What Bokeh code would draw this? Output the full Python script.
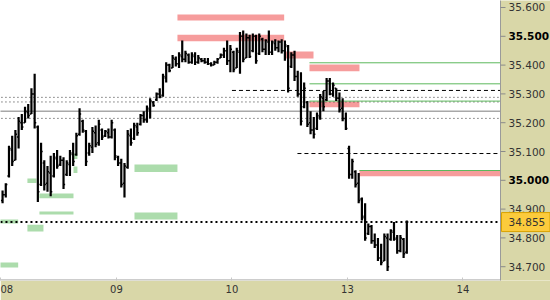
from bokeh.plotting import figure
from bokeh.models import Range1d, FixedTicker
from bokeh.core.properties import value
from bokeh.embed import file_html
from bokeh.resources import INLINE

# Trading sessions shown on the time axis (the last one has no bars yet)
axis_days = ["08", "09", "10", "13", "14"]
bars_per_session = 36
session_lengths = [36, 36, 36, 19]

# OHLC of each bar, session after session
opens = [
    34.930, 34.950, 35.015, 35.105, 35.070, 35.150, 35.200, 35.200, 35.235, 35.230, 35.300, 35.185,
    34.985, 35.060, 34.990, 35.025, 35.015, 35.075, 35.055, 35.070, 35.020, 35.055, 35.090, 35.090,
    35.160, 35.205, 35.170, 35.095, 35.115, 35.165, 35.130, 35.175, 35.155, 35.165, 35.150, 35.175,
    35.080, 35.060, 34.990, 35.045, 35.155, 35.145, 35.185, 35.195, 35.225, 35.210, 35.245, 35.270,
    35.280, 35.300, 35.295, 35.355, 35.400, 35.390, 35.420, 35.405, 35.430, 35.420, 35.435, 35.410,
    35.430, 35.410, 35.420, 35.415, 35.410, 35.405, 35.400, 35.410, 35.425, 35.435, 35.450, 35.415,
    35.445, 35.390, 35.445, 35.500, 35.425, 35.495, 35.450, 35.500, 35.440, 35.490, 35.455, 35.480,
    35.445, 35.475, 35.460, 35.480, 35.450, 35.465, 35.395, 35.435, 35.360, 35.300, 35.255, 35.270,
    35.200, 35.175, 35.180, 35.220, 35.285, 35.280, 35.345, 35.300, 35.320, 35.285, 35.250, 35.215,
    35.110, 35.020, 35.030, 34.990, 34.935, 34.875, 34.815, 34.840, 34.790, 34.775, 34.730, 34.720,
    34.800, 34.795, 34.820, 34.800, 34.755, 34.795, 34.750,
]
highs = [
    34.965, 34.990, 35.120, 35.155, 35.175, 35.220, 35.230, 35.255, 35.265, 35.320, 35.370, 35.190,
    35.130, 35.070, 35.050, 35.085, 35.095, 35.105, 35.085, 35.080, 35.070, 35.105, 35.130, 35.165,
    35.250, 35.210, 35.175, 35.130, 35.185, 35.190, 35.210, 35.180, 35.175, 35.180, 35.210, 35.180,
    35.085, 35.075, 35.060, 35.175, 35.180, 35.200, 35.200, 35.230, 35.240, 35.260, 35.285, 35.275,
    35.305, 35.320, 35.370, 35.410, 35.405, 35.435, 35.430, 35.445, 35.485, 35.450, 35.440, 35.445,
    35.445, 35.435, 35.425, 35.425, 35.425, 35.410, 35.415, 35.425, 35.440, 35.460, 35.485, 35.470,
    35.450, 35.460, 35.515, 35.520, 35.510, 35.505, 35.510, 35.505, 35.510, 35.495, 35.490, 35.520,
    35.485, 35.490, 35.485, 35.490, 35.485, 35.470, 35.445, 35.450, 35.380, 35.375, 35.340, 35.275,
    35.240, 35.220, 35.235, 35.300, 35.310, 35.355, 35.355, 35.340, 35.320, 35.305, 35.285, 35.235,
    35.120, 35.075, 35.035, 35.025, 34.940, 34.920, 34.850, 34.845, 34.815, 34.800, 34.780, 34.815,
    34.815, 34.830, 34.855, 34.810, 34.810, 34.800, 34.860,
]
lows = [
    34.920, 34.940, 35.010, 35.050, 35.070, 35.110, 35.175, 35.200, 35.215, 35.230, 35.180, 34.925,
    34.980, 34.965, 34.960, 34.945, 35.010, 35.040, 35.050, 34.970, 35.015, 35.015, 35.050, 35.085,
    35.155, 35.165, 35.050, 35.085, 35.095, 35.115, 35.120, 35.140, 35.150, 35.145, 35.145, 35.070,
    35.050, 34.975, 34.940, 35.040, 35.120, 35.140, 35.155, 35.190, 35.200, 35.200, 35.215, 35.255,
    35.275, 35.285, 35.290, 35.340, 35.375, 35.390, 35.395, 35.390, 35.410, 35.410, 35.405, 35.405,
    35.400, 35.405, 35.410, 35.405, 35.400, 35.395, 35.400, 35.405, 35.425, 35.425, 35.400, 35.375,
    35.375, 35.390, 35.370, 35.410, 35.425, 35.425, 35.445, 35.405, 35.435, 35.445, 35.435, 35.435,
    35.435, 35.450, 35.445, 35.440, 35.415, 35.305, 35.390, 35.345, 35.290, 35.190, 35.250, 35.185,
    35.160, 35.145, 35.175, 35.210, 35.240, 35.275, 35.295, 35.290, 35.275, 35.235, 35.205, 35.175,
    35.005, 35.005, 34.975, 34.920, 34.860, 34.790, 34.810, 34.780, 34.765, 34.720, 34.705, 34.720,
    34.685, 34.790, 34.790, 34.745, 34.750, 34.730, 34.745,
]
closes = [
    34.950, 34.985, 35.110, 35.065, 35.160, 35.205, 35.185, 35.240, 35.225, 35.300, 35.200, 34.960,
    35.100, 34.985, 35.030, 34.960, 35.080, 35.050, 35.070, 34.985, 35.060, 35.095, 35.065, 35.155,
    35.230, 35.175, 35.065, 35.120, 35.170, 35.125, 35.195, 35.150, 35.170, 35.150, 35.200, 35.085,
    35.060, 34.985, 35.050, 35.160, 35.130, 35.190, 35.165, 35.225, 35.210, 35.250, 35.275, 35.260,
    35.300, 35.290, 35.360, 35.400, 35.380, 35.425, 35.405, 35.435, 35.420, 35.440, 35.410, 35.435,
    35.410, 35.425, 35.415, 35.410, 35.405, 35.400, 35.410, 35.420, 35.435, 35.450, 35.415, 35.455,
    35.385, 35.450, 35.500, 35.420, 35.495, 35.430, 35.500, 35.415, 35.500, 35.455, 35.485, 35.445,
    35.480, 35.460, 35.480, 35.450, 35.470, 35.320, 35.435, 35.360, 35.300, 35.205, 35.320, 35.195,
    35.175, 35.160, 35.225, 35.290, 35.255, 35.345, 35.300, 35.330, 35.285, 35.245, 35.215, 35.180,
    35.020, 35.065, 34.985, 34.930, 34.870, 34.800, 34.840, 34.790, 34.775, 34.730, 34.715, 34.805,
    34.700, 34.825, 34.795, 34.755, 34.800, 34.745, 34.855,
]

# Resistance zones: start, end (session units), bottom, top
res_x0 = [1.528, 1.528, 2.455, 2.671, 2.671, 3.104]
res_x1 = [2.452, 2.452, 2.706, 3.104, 3.104, 4.333]
res_lo = [35.555, 35.483, 35.423, 35.379, 35.254, 35.014]
res_hi = [35.576, 35.505, 35.447, 35.402, 35.274, 35.036]

# Support zones
sup_x0 = [-0.100, -0.100, 0.229, 0.229, 0.333, 0.333, 0.628, 0.628, 1.156, 1.156]
sup_x1 = [0.149, 0.149, 0.307, 0.368, 0.628, 0.628, 0.662, 0.662, 1.528, 1.528]
sup_lo = [34.850, 34.697, 34.991, 34.822, 34.938, 34.881, 35.074, 35.025, 35.029, 34.864]
sup_hi = [34.864, 34.715, 35.006, 34.846, 34.954, 34.892, 35.093, 35.048, 35.055, 34.888]

# Horizontal levels
green_levels = [35.408, 35.335, 35.275, 35.034]
green_from = [2.671, 2.671, 2.671, 3.104]
dashed_levels = [35.312, 35.093]
dashed_from = [2.000, 2.567]
dotted_levels = [35.288, 35.272, 35.215]
pivot_level = 35.240

price_ticks = [34.7, 34.8, 34.9, 35.0, 35.1, 35.2, 35.3, 35.4, 35.5, 35.6]
bold_ticks = [35.0, 35.5]

FONT = "DejaVu Sans"
PANEL = "#d9d7a8"

# geometry: one session = 115.5 px, price: 288 px per point
PX_X = 1 / 115.5
PX_Y = 1 / 288.0
x_start = -0.004
x_edge = x_start + 500 * PX_X          # right edge of the chart area
x_stop = x_start + 550 * PX_X          # right edge of the price panel
y_lo, y_hi = 34.6521, 35.6243

p = figure(width=550, height=300, output_backend="svg", toolbar_location=None,
           x_range=Range1d(x_start, x_stop), y_range=Range1d(y_lo, y_hi),
           y_axis_location=None, min_border_left=0, min_border_top=0,
           min_border_right=0, min_border_bottom=20)
p.background_fill_color = "white"
p.border_fill_color = PANEL
p.outline_line_color = None
p.xgrid.visible = False
p.ygrid.visible = False

# zones
p.quad(left=res_x0, right=res_x1, bottom=res_lo, top=res_hi,
       fill_color="#f69c9c", line_color=None)
p.quad(left=sup_x0, right=sup_x1, bottom=sup_lo, top=sup_hi,
       fill_color="#acdcac", line_color=None)

# level lines
p.segment(x0=[-1.0], x1=[x_edge], y0=[pivot_level], y1=[pivot_level],
          line_color="#a8a8a8", line_width=1.5)
p.segment(x0=[-1.0] * len(dotted_levels), x1=[x_edge] * len(dotted_levels),
          y0=dotted_levels, y1=dotted_levels, line_color="#333333",
          line_width=1, line_dash="1 3")
p.segment(x0=dashed_from, x1=[x_edge] * len(dashed_levels),
          y0=dashed_levels, y1=dashed_levels, line_color="black",
          line_width=1, line_dash="4 3")
p.segment(x0=green_from, x1=[x_edge] * len(green_levels),
          y0=green_levels, y1=green_levels, line_color="#5cb85c", line_width=1)
last = closes[-1]
p.segment(x0=[-1.0], x1=[x_edge], y0=[last], y1=[last],
          line_color="black", line_width=2, line_dash="2 3")

# OHLC bars
xs = []
for d, n in enumerate(session_lengths):
    for k in range(n):
        xs.append(d + (k + 0.5) / bars_per_session)
tick = 1.6 * PX_X
p.segment(x0=xs, x1=xs, y0=lows, y1=highs, line_color="black", line_width=2.2)
p.segment(x0=[x - tick for x in xs], x1=xs, y0=opens, y1=opens,
          line_color="black", line_width=1.5)
p.segment(x0=xs, x1=[x + tick for x in xs], y0=closes, y1=closes,
          line_color="black", line_width=1.5)

# price panel on the right
p.quad(left=[x_edge], right=[x_stop + 1], bottom=[y_lo - 1], top=[y_hi + 1],
       fill_color=PANEL, line_color=None)
p.segment(x0=[x_edge, x_start - 1], x1=[x_edge, x_edge], y0=[y_lo - 1, y_lo + 0.5 * PX_Y],
          y1=[y_hi + 1, y_lo + 0.5 * PX_Y], line_color="#9a9a9a", line_width=1)
p.segment(x0=[x_edge] * len(price_ticks), x1=[x_edge + 5 * PX_X] * len(price_ticks),
          y0=price_ticks, y1=price_ticks, line_color="#8a8a8a", line_width=1)

normal = [t for t in price_ticks if t not in bold_ticks]
p.text(x=[x_edge] * len(normal), y=normal, text=["%.3f" % t for t in normal],
       x_offset=8, text_align="left", text_baseline="middle",
       text_font=value(FONT), text_font_size="10.5px", text_color="#333333")
p.text(x=[x_edge] * len(bold_ticks), y=bold_ticks, text=["%.3f" % t for t in bold_ticks],
       x_offset=8, text_align="left", text_baseline="middle",
       text_font=value(FONT), text_font_size="10.5px", text_font_style="bold",
       text_color="black")

# last price marker
p.quad(left=[x_edge + 1 * PX_X], right=[x_stop - 0.5 * PX_X],
       bottom=[last - 9.5 * PX_Y], top=[last + 9.5 * PX_Y],
       fill_color="#fccb3c", line_color="#d9a300", line_width=1)
p.text(x=[x_edge], y=[last], text=["%.3f" % last], x_offset=8,
       text_align="left", text_baseline="middle",
       text_font=value(FONT), text_font_size="10.5px", text_color="#333333")

# time axis
p.xaxis.ticker = FixedTicker(ticks=list(range(len(axis_days))))
p.xaxis.major_label_overrides = {i: s for i, s in enumerate(axis_days)}
p.xaxis.axis_line_color = None
p.xaxis.major_tick_in = 3
p.xaxis.major_tick_out = 0
p.xaxis.major_tick_line_color = "#c8c8c8"
p.xaxis.minor_tick_line_color = None
p.xaxis.major_label_standoff = 4
p.xaxis.major_label_text_font = FONT
p.xaxis.major_label_text_font_size = "10px"
p.xaxis.major_label_text_color = "#333333"

open("out.html", "w").write(file_html(p, INLINE))
